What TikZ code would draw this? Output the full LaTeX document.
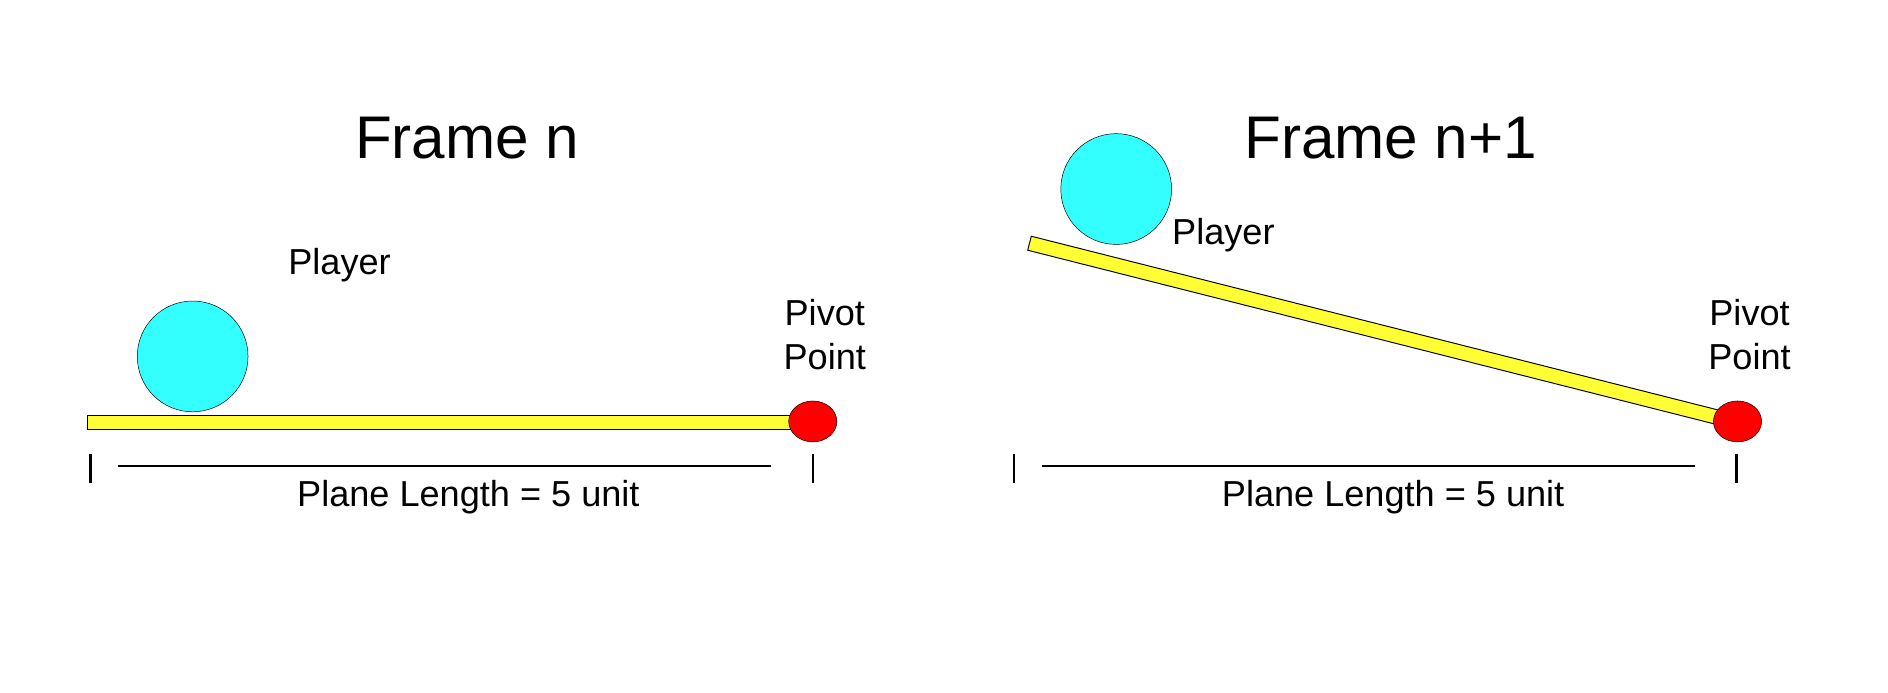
\documentclass[tikz,border=0pt]{standalone}
\usepackage{fontspec}
\setmainfont{Liberation Sans}
\usetikzlibrary{calc,shapes.geometric}
\definecolor{ballc}{RGB}{51,255,255}
\definecolor{pivc}{RGB}{255,0,0}
\definecolor{barc}{RGB}{255,255,51}
\begin{document}
\begin{tikzpicture}[x=1pt,y=-1pt,
  ball/.style={circle,draw=black,fill=ballc,minimum size=92pt,inner sep=0pt},
  pivot/.style={ellipse,draw=black,fill=pivc,minimum width=40pt,minimum height=34pt,inner sep=0pt},
  lab/.style={font=\fontsize{30}{34}\selectfont,align=center,inner sep=0pt},
  title/.style={font=\fontsize{50}{56}\selectfont,inner sep=0pt},
  bar/.style={draw=black,fill=barc,line width=0.8pt},
  tick/.style={line width=2pt},
  dim/.style={line width=1pt}]
\useasboundingbox (0,0) rectangle (1568,575);
% left frame
\node[title] (t1) at (388,115) {Frame n};
\draw[bar] (73,345) rectangle (670,357);
\node[ball] (b1) at (160,296) {};
\node[lab] (p1) at (282,220) {Player};
\node[pivot] (v1) at (675,350) {};
\node[lab,font=\fontsize{30}{37}\selectfont] (pp1) at (685,278) {Pivot\\Point};
\coordinate (k1a) at (75,377); \coordinate (k1b) at (75,401);
\coordinate (k2a) at (675,377); \coordinate (k2b) at (675,401);
\draw[tick] (k1a) -- (k1b); \draw[tick] (k2a) -- (k2b);
\coordinate (d1a) at (98,387); \coordinate (d1b) at (640,387);
\draw[dim] (d1a) -- (d1b);
\node[lab] (l1) at (389,413) {Plane Length = 5 unit};
% right frame
\node[title] (t2) at (1155,115) {Frame n+1};
\coordinate (ra) at (855,202); \coordinate (rb) at (1440,350);
\draw[bar] ($(ra)!6pt!-90:(rb)$) -- ($(rb)!6pt!90:(ra)$) -- ($(rb)!6pt!-90:(ra)$) -- ($(ra)!6pt!90:(rb)$) -- cycle;
\node[ball] (b2) at (927,157) {};
\node[lab] (p2) at (1016,195) {Player};
\node[pivot] (v2) at (1443,350) {};
\node[lab,font=\fontsize{30}{37}\selectfont] (pp2) at (1453,278) {Pivot\\Point};
\coordinate (k3a) at (842,377); \coordinate (k3b) at (842,401);
\coordinate (k4a) at (1442,377); \coordinate (k4b) at (1442,401);
\draw[tick] (k3a) -- (k3b); \draw[tick] (k4a) -- (k4b);
\coordinate (d2a) at (865,387); \coordinate (d2b) at (1408,387);
\draw[dim] (d2a) -- (d2b);
\node[lab] (l2) at (1157,413) {Plane Length = 5 unit};
\end{tikzpicture}
\end{document}
